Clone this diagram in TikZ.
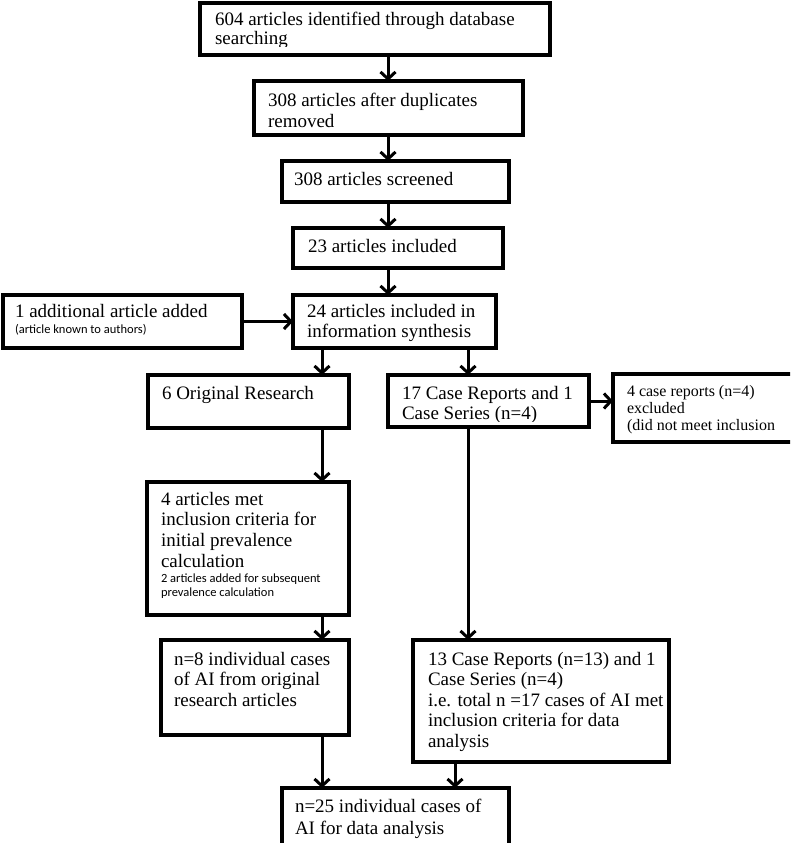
\documentclass[tikz,border=0pt]{standalone}
\usepackage{fontspec}
\setmainfont{Liberation Serif}
\newfontfamily\smallsans{Carlito}
\usetikzlibrary{arrows.meta}

\tikzset{
  boxnode/.style={draw=black, line width=3.3pt, inner sep=0pt, outer sep=0pt, anchor=north west, fill=white},
  txt/.style={anchor=base west, inner sep=0pt, outer sep=0pt},
  conn/.style={line width=3pt, -{Straight Barb[length=7pt,width=15pt,line width=3pt]}},
}
\newcommand\bx[5]{\node[boxnode, minimum width={(#4-#2)*1pt}, minimum height={(#5-#3)*1pt}] (#1) at (#2,#3) {};}
\newcommand\mainfs{\fontsize{19}{20}\selectfont}
\newcommand\sansfs{\smallsans\fontsize{12.5}{14}\selectfont}
\newcommand\exclfs{\fontsize{16}{17}\selectfont}
% name, x, y of first baseline, line skip, font, lines
\newcommand\textlines[6]{\foreach \l [count=\i] in {#6}{\node[txt,font=#5] (#1-\i) at (#2,{#3+(\i-1)*#4}) {\l};}}

\begin{document}
\begin{tikzpicture}[x=1pt,y=-1pt]
\useasboundingbox (0,0) rectangle (790,843);
\clip (0,0) rectangle (790,843);

\coordinate (xM) at (388,0);
\coordinate (xL) at (322,0);
\coordinate (xR) at (468,0);
\coordinate (xB) at (455,0);

% boxes
\bx{b1}{200}{3}{550}{55}
\bx{b2}{254}{81}{523}{135}
\bx{b3}{282}{161}{509}{202}
\bx{b4}{293}{228}{503}{268}
\bx{b5}{293}{295}{496}{348}
\bx{add}{3}{295}{242}{348}
\bx{orig}{148}{375}{349}{428}
\bx{cases}{388}{375}{589}{427}
\bx{excl}{613}{374}{820}{442}
\bx{met}{147}{482}{349}{615}
\bx{neight}{161}{640}{349}{735}
\bx{thirteen}{413}{640}{669}{762}
\bx{final}{282}{788}{509}{880}

% texts
\begin{scope}
\clip (200,3) rectangle (550,47);
\textlines{t1}{215}{26}{19}{\mainfs}{604 articles identified through database,searching}
\end{scope}
\textlines{t2}{268}{106}{21}{\mainfs}{308 articles after duplicates,removed}
\textlines{t3}{294}{185}{20}{\mainfs}{308 articles screened}
\textlines{t4}{308}{252}{20}{\mainfs}{23 articles included}
\begin{scope}
\clip (293,295) rectangle (496,342);
\textlines{t5}{307}{317}{20}{\mainfs}{24 articles included in,information synthesis}
\end{scope}
\textlines{ta}{15}{317}{20}{\mainfs}{1 additional article added}
\textlines{tas}{15}{333}{14}{\sansfs}{{(article known to authors)}}
\textlines{to}{162}{399}{20}{\mainfs}{6 Original Research}
\begin{scope}
\clip (388,375) rectangle (589,421);
\textlines{tc}{402}{399}{20}{\mainfs}{17 Case Reports and 1,Case Series (n=4)}
\end{scope}
\textlines{te}{627}{396}{17}{\exclfs}{4 case reports (n=4),excluded,{(did not meet inclusion}}
\textlines{tm}{161}{505}{20.7}{\mainfs}{4 articles met,inclusion criteria for,initial prevalence,calculation}
\textlines{tms}{161}{582}{14}{\sansfs}{2 articles added for subsequent,prevalence calculation}
\textlines{tn}{174}{665}{20.7}{\mainfs}{n=8 individual cases,of AI from original,research articles}
\textlines{tt}{428}{665}{20.5}{\mainfs}{13 Case Reports (n=13) and 1,Case Series (n=4),i.e. total n =17 cases of AI met,inclusion criteria for data,analysis}
\textlines{tf}{295}{812}{22}{\mainfs}{n=25 individual cases of,AI for data analysis}

% connectors
\draw[conn] (b1.south -| xM) -- (b2.north -| xM);
\draw[conn] (b2.south -| xM) -- (b3.north -| xM);
\draw[conn] (b3.south -| xM) -- (b4.north -| xM);
\draw[conn] (b4.south -| xM) -- (b5.north -| xM);
\draw[conn] (add.east) -- (add.east -| b5.west);
\draw[conn] (b5.south -| xL) -- (orig.north -| xL);
\draw[conn] (b5.south -| xR) -- (cases.north -| xR);
\draw[conn] (cases.east) -- (cases.east -| excl.west);
\draw[conn] (orig.south -| xL) -- (met.north -| xL);
\draw[conn] (met.south -| xL) -- (neight.north -| xL);
\draw[conn] (cases.south -| xR) -- (thirteen.north -| xR);
\draw[conn] (neight.south -| xL) -- (final.north -| xL);
\draw[conn] (thirteen.south -| xB) -- (final.north -| xB);
\end{tikzpicture}
\end{document}
